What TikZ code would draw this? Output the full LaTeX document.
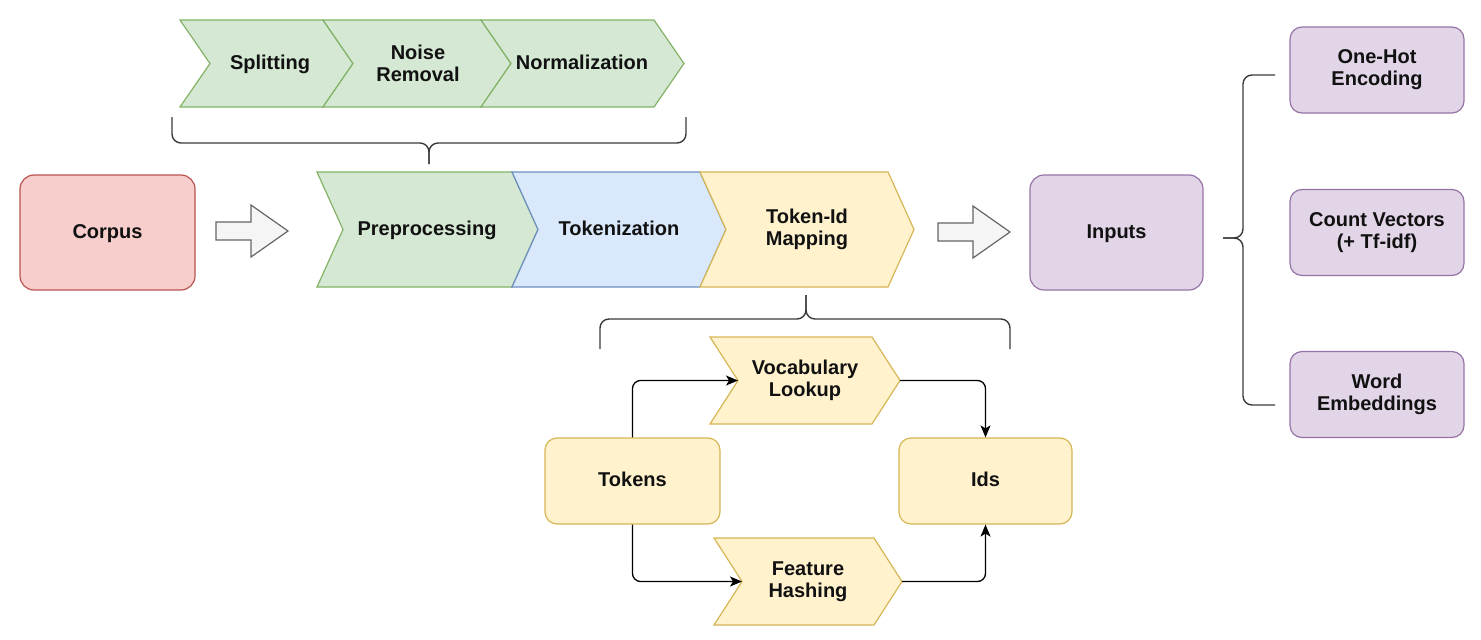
\documentclass[tikz,border=0pt]{standalone}
\usepackage{fontspec}
\setmainfont{Liberation Sans}
\usetikzlibrary{arrows.meta}
\definecolor{gfill}{HTML}{D5E8D4}\definecolor{gline}{HTML}{82B366}
\definecolor{bfill}{HTML}{DAE8FC}\definecolor{bline}{HTML}{6C8EBF}
\definecolor{yfill}{HTML}{FFF2CC}\definecolor{yline}{HTML}{D6B656}
\definecolor{pfill}{HTML}{E1D5E7}\definecolor{pline}{HTML}{9673A6}
\definecolor{rfill}{HTML}{F8CECC}\definecolor{rline}{HTML}{B85450}
\definecolor{afill}{HTML}{F5F5F5}\definecolor{aline}{HTML}{666666}
\definecolor{brc}{HTML}{3A3A3A}
\definecolor{txt}{HTML}{111111}
\newcommand\mychev[6]{\draw[#6] (#1,#2) -- (#3,#2) -- ({#3+#5},{(#2+#4)/2}) -- (#3,#4) -- (#1,#4) -- ({#1+#5},{(#2+#4)/2}) -- cycle;}
\begin{document}
\begin{tikzpicture}[x=1pt,y=-1pt,
  lbl/.style={font=\bfseries\fontsize{20}{22}\selectfont, align=center, text=txt, inner sep=0pt},
  one/.style={text height=14.5pt, text depth=3.5pt},
  rbox/.style={lbl, draw, line width=1.2pt, rounded corners=14pt, minimum width=175pt, minimum height=115pt},
  sbox/.style={lbl, draw, line width=1.2pt, rounded corners=12pt, minimum width=174pt, minimum height=86pt},
  gch/.style={fill=gfill, draw=gline, line width=1.2pt, line join=miter},
  bch/.style={fill=bfill, draw=bline, line width=1.2pt},
  ych/.style={fill=yfill, draw=yline, line width=1.2pt},
  brace/.style={draw=brc, line width=1.4pt, rounded corners=9pt},
  hollow/.style={fill=afill, draw=aline, line width=1.2pt, line join=miter},
  conn/.style={draw=black, line width=1.3pt, rounded corners=8pt, -{Stealth[length=12pt,width=10pt,inset=3pt]}}
]
\useasboundingbox (0,0) rectangle (1481,640);

% top row
\mychev{180}{20}{323}{107}{30}{gch}
\mychev{323}{20}{481}{107}{30}{gch}
\mychev{481}{20}{654}{107}{30}{gch}
\node[lbl, one] (split) at (270,63.5) {Splitting};
\node[lbl] (noise) at (418,63.5) {Noise\\Removal};
\node[lbl, one] (norm) at (582,63.5) {Normalization};

% top brace
\draw[brace] (172,117) -- (172,143) -- (429,143) -- (429,164);
\draw[brace] (686,117) -- (686,143) -- (429,143) -- (429,164);

% corpus
\node[rbox, one, fill=rfill, draw=rline] (corpus) at (107.5,232.5) {Corpus};

% hollow arrow 1
\draw[hollow] (216,222) -- (251,222) -- (251,205) -- (288,231) -- (251,257) -- (251,240) -- (216,240) -- cycle;

% main row
\mychev{317}{172}{512}{287}{26}{gch}
\mychev{512}{172}{700}{287}{26}{bch}
\mychev{700}{172}{888}{287}{26}{ych}
\node[lbl, one] (prep) at (427,229.5) {Preprocessing};
\node[lbl, one] (tok) at (619,229.5) {Tokenization};
\node[lbl] (tidm) at (807,229.5) {Token-Id\\Mapping};

% hollow arrow 2
\draw[hollow] (938,223) -- (973,223) -- (973,206) -- (1010,232) -- (973,258) -- (973,241) -- (938,241) -- cycle;

% inputs
\node[rbox, one, fill=pfill, draw=pline, minimum width=173pt] (inputs) at (1116.5,232.5) {Inputs};

% right brace
\draw[brace] (1275,75) -- (1243,75) -- (1243,238) -- (1223,238);
\draw[brace] (1275,405) -- (1243,405) -- (1243,238) -- (1223,238);

% right boxes
\node[sbox, fill=pfill, draw=pline] (onehot) at (1377,70) {One-Hot\\Encoding};
\node[sbox, fill=pfill, draw=pline] (count) at (1377,232.5) {Count Vectors\\(+ Tf-idf)};
\node[sbox, fill=pfill, draw=pline] (word) at (1377,394.5) {Word\\Embeddings};

% lower brace
\draw[brace] (600,349) -- (600,319) -- (806,319) -- (806,295);
\draw[brace] (1010,349) -- (1010,319) -- (806,319) -- (806,295);

% token-id sub flow
\mychev{710}{337}{872}{424}{28}{ych}
\mychev{714}{538}{874}{625}{28}{ych}
\node[lbl] (vocab) at (805,380.5) {Vocabulary\\Lookup};
\node[lbl] (feat) at (808,581.5) {Feature\\Hashing};
\coordinate (vocabin) at (738,380.5);
\coordinate (vocabout) at (900,380.5);
\coordinate (featin) at (742,581.5);
\coordinate (featout) at (902,581.5);

\node[sbox, one, fill=yfill, draw=yline, minimum width=175pt] (tokens) at (632.5,481) {Tokens};
\node[sbox, one, fill=yfill, draw=yline, minimum width=173pt] (ids) at (985.5,481) {Ids};

\draw[conn] (tokens.north) |- (vocabin);
\draw[conn] (tokens.south) |- (featin);
\draw[conn] (vocabout) -| (ids.north);
\draw[conn] (featout) -| (ids.south);
\end{tikzpicture}
\end{document}
